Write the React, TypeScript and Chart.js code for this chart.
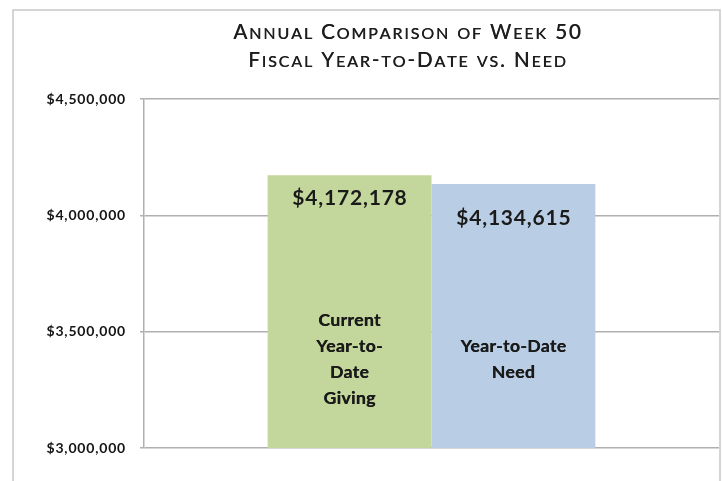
import React, { useEffect, useRef } from "react";
import { Chart, registerables } from "chart.js";

Chart.register(...registerables);

const categories = [""];
const seriesNames = ["Current Year-to-Date Giving", "Year-to-Date Need"];
const seriesValues = [4172178, 4134615];
const seriesInnerLabels = [
  ["Current", "Year-to-", "Date", "Giving"],
  ["Year-to-Date", "Need"],
];
const titleLines = ["Annual Comparison of Week 50", "Fiscal Year-to-Date vs. Need"];
const yMin = 3000000;
const yMax = 4500000;
const yStep = 500000;

const colors = ["#c3d69b", "#b9cde5"];
const FONT = "Lato, 'Open Sans', sans-serif";

const fmt = (v: number) => "$" + Math.round(v).toLocaleString("en-US");

const frameTitlePlugin = {
  id: "frameTitle",
  beforeDraw(chart: any) {
    const ctx = chart.ctx;
    ctx.save();
    ctx.fillStyle = "#ffffff";
    ctx.fillRect(0, 0, chart.width, chart.height);
    ctx.strokeStyle = "#c8c8c8";
    ctx.lineWidth = 1.5;
    ctx.beginPath();
    ctx.moveTo(13, chart.height + 2);
    ctx.lineTo(13, 10);
    ctx.lineTo(720, 10);
    ctx.lineTo(720, chart.height + 2);
    ctx.stroke();

    // small-caps title
    const big = 20.5;
    const small = 16;
    const spacing = 1.9;
    const baselines = [39, 67];
    ctx.fillStyle = "#1e1e1e";
    ctx.textBaseline = "alphabetic";
    titleLines.forEach((line, li) => {
      const parts: { ch: string; size: number }[] = [];
      for (const ch of line) {
        if (ch >= "a" && ch <= "z") parts.push({ ch: ch.toUpperCase(), size: small });
        else parts.push({ ch, size: big });
      }
      let total = 0;
      const widths = parts.map((p, i) => {
        ctx.font = `normal ${p.size}px ${FONT}`;
        const w = ctx.measureText(p.ch).width + (i < parts.length - 1 ? spacing : 0);
        total += w;
        return w;
      });
      let x = 407 - total / 2;
      parts.forEach((p, i) => {
        ctx.font = `normal ${p.size}px ${FONT}`;
        ctx.fillText(p.ch, x, baselines[li]);
        ctx.fillText(p.ch, x + 0.4, baselines[li]);
        x += widths[i];
      });
    });
    ctx.restore();
    // letter spacing for the axis tick labels drawn afterwards
    (ctx as any).letterSpacing = "0.8px";
  },
  beforeDatasetsDraw(chart: any) {
    (chart.ctx as any).letterSpacing = "0px";
  },
  afterDraw(chart: any) {
    (chart.ctx as any).letterSpacing = "0px";
  },
};

const labelOffsets = [23, 34];

const barLabelsPlugin = {
  id: "barLabels",
  afterDatasetsDraw(chart: any) {
    const ctx = chart.ctx;
    const bottom = chart.scales.y.getPixelForValue(yMin);
    ctx.save();
    ctx.fillStyle = "#1a1a1a";
    ctx.textAlign = "center";
    ctx.textBaseline = "middle";
    chart.data.datasets.forEach((ds: any, di: number) => {
      const meta = chart.getDatasetMeta(di);
      meta.data.forEach((bar: any, i: number) => {
        const v = ds.data[i];
        (ctx as any).letterSpacing = "0.8px";
        ctx.font = `bold 21px ${FONT}`;
        ctx.fillText(fmt(v), bar.x + 0.4, bar.y + labelOffsets[di]);
        const lines = seriesInnerLabels[di];
        (ctx as any).letterSpacing = "0.4px";
        ctx.font = `bold 17.5px ${FONT}`;
        const lh = 26;
        const cy = bottom - 89;
        lines.forEach((ln, k) => {
          const y = cy + (k - (lines.length - 1) / 2) * lh;
          ctx.fillText(ln, bar.x, y);
          ctx.fillText(ln, bar.x + 0.4, y);
        });
      });
    });
    (ctx as any).letterSpacing = "0px";
    ctx.restore();
  },
};

export default function App() {
  const ref = useRef<HTMLCanvasElement | null>(null);
  useEffect(() => {
    if (!ref.current) return;
    const chart = new Chart(ref.current, {
      type: "bar",
      data: {
        labels: categories,
        datasets: seriesNames.map((name, i) => ({
          label: name,
          data: [seriesValues[i]],
          backgroundColor: colors[i],
          borderWidth: 0,
          categoryPercentage: 0.57,
          barPercentage: 1.0,
        })),
      },
      options: {
        animation: false,
        responsive: true,
        maintainAspectRatio: false,
        layout: { padding: { left: 0, top: 99, right: 3, bottom: 33 } },
        plugins: {
          legend: { display: false },
          title: { display: false },
          tooltip: { enabled: false },
        },
        scales: {
          x: { display: false },
          y: {
            min: yMin,
            max: yMax,
            afterFit: (s: any) => {
              s.width = 144;
            },
            ticks: {
              stepSize: yStep,
              padding: 14,
              color: "#141414",
              font: { family: FONT, size: 14, weight: "bold" },
              callback: (v: any) => fmt(Number(v)),
            },
            grid: {
              color: "#b0b0b0",
              lineWidth: 1.5,
              tickLength: 4,
              drawTicks: true,
            },
            border: { display: true, color: "#b0b0b0", width: 1.5 },
          },
        },
      },
      plugins: [frameTitlePlugin, barLabelsPlugin],
    });
    return () => chart.destroy();
  }, []);
  return (
    <div style={{ position: "fixed", left: 0, top: 0, width: 722, height: 481 }}>
      <canvas ref={ref} />
    </div>
  );
}
